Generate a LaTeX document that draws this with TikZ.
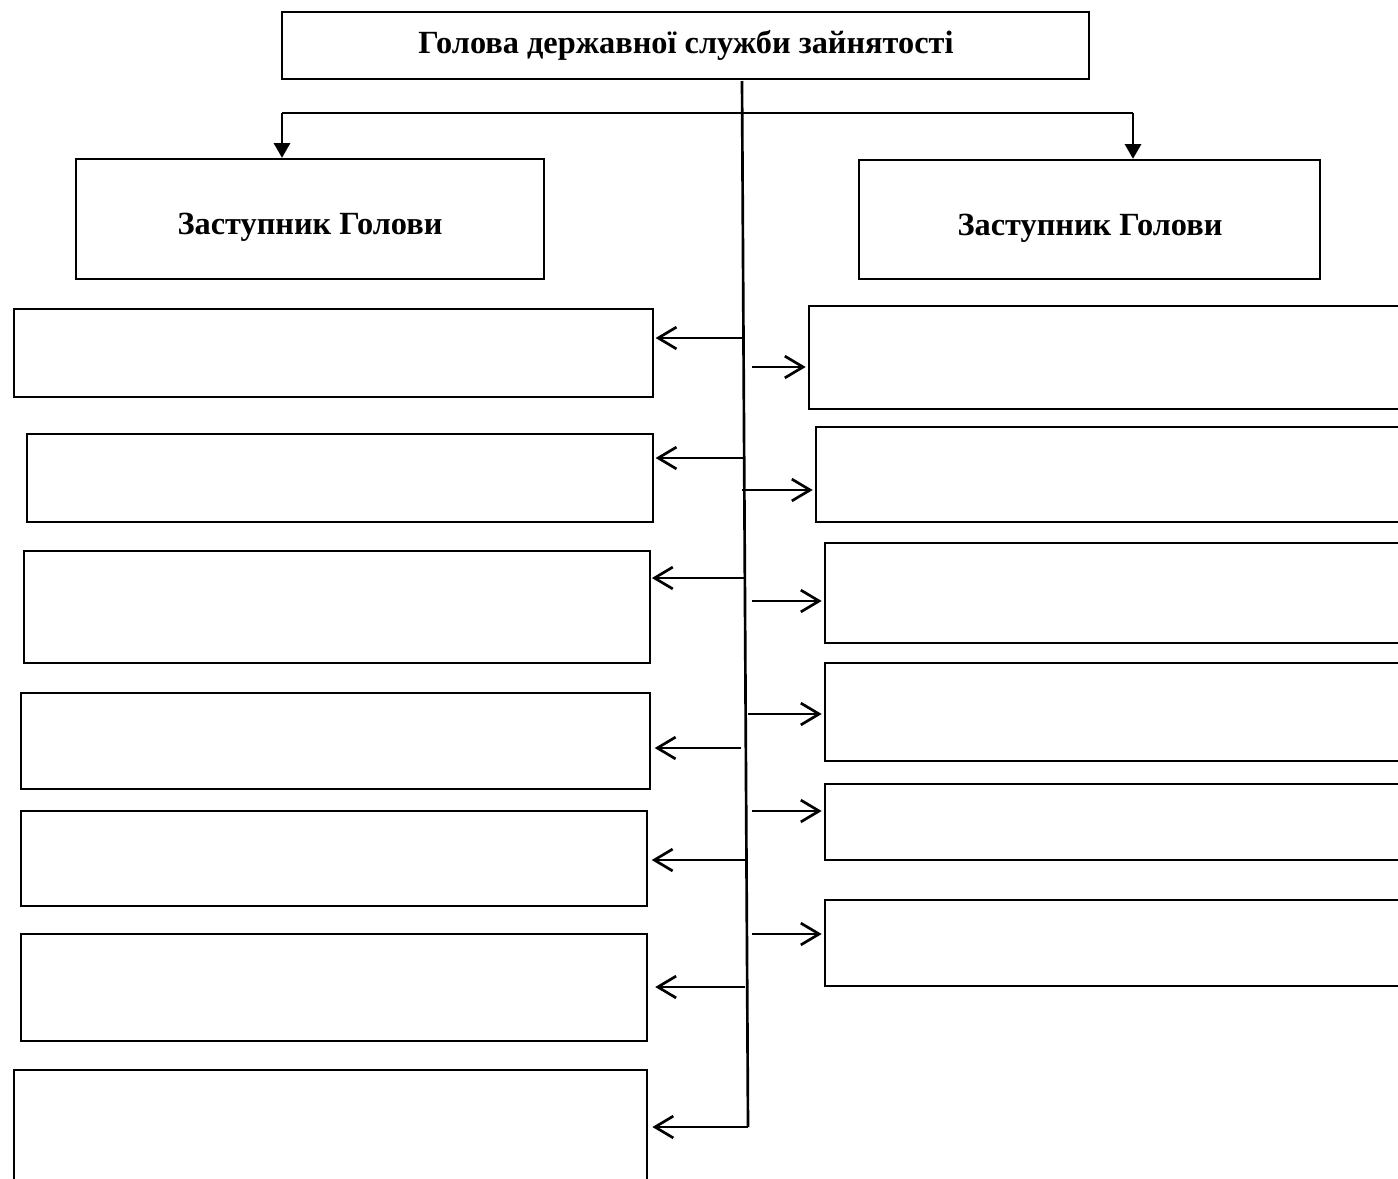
\documentclass[tikz,border=0pt]{standalone}
\usepackage{fontspec}
\setmainfont{Liberation Serif}
\usetikzlibrary{arrows.meta,fit}
\begin{document}
\begin{tikzpicture}[x=0.05cm,y=-0.05cm,
  box/.style={draw, line width=3.4pt, inner sep=0pt},
  txt/.style={inner sep=0pt, font=\fontsize{46}{54}\selectfont\bfseries},
  conn/.style={line width=3.8pt},
  barb/.style={conn, -{Straight Barb[length=26pt,width=31pt,line width=3.8pt]}},
  down/.style={conn, -{Triangle[length=21pt,width=23pt]}}]
\useasboundingbox (0,0) rectangle (1398,1178);
\clip (0,0) rectangle (1398,1178);
% top
\node[box, fit={(282,12) (1089,79)}] (head) {};
\node[txt] (headt) at (686,45) {Голова державної служби зайнятості};
\node[box, fit={(76,159) (544,279)}] (dl) {};
\node[txt] (dlt) at (310,227) {Заступник Голови};
\node[box, fit={(859,160) (1320,279)}] (dr) {};
\node[txt] (drt) at (1090,228) {Заступник Голови};
% left column
\node[box, fit={(14,309) (653,397)}] (l1) {};
\node[box, fit={(27,434) (653,522)}] (l2) {};
\node[box, fit={(24,551) (650,663)}] (l3) {};
\node[box, fit={(21,693) (650,789)}] (l4) {};
\node[box, fit={(21,811) (647,906)}] (l5) {};
\node[box, fit={(21,934) (647,1041)}] (l6) {};
\node[box, fit={(14,1070) (647,1200)}] (l7) {};
% right column
\node[box, fit={(809,306) (1410,409)}] (r1) {};
\node[box, fit={(816,427) (1410,522)}] (r2) {};
\node[box, fit={(825,543) (1410,643)}] (r3) {};
\node[box, fit={(825,663) (1410,761)}] (r4) {};
\node[box, fit={(825,784) (1410,860)}] (r5) {};
\node[box, fit={(825,900) (1410,986)}] (r6) {};
% spine
\coordinate (st) at (742,81);
\coordinate (sb) at (748,1127);
\draw[conn] (st) -- (sb);
% top bar
\coordinate (bl) at (282,113);
\coordinate (br) at (1133,113);
\draw[conn] (bl) -- (br);
\draw[down] (bl) -- (bl |- dl.north);
\draw[down] (br) -- (br |- dr.north);
% left arrows
\coordinate (a1) at (745,338);
\coordinate (a2) at (745,458);
\coordinate (a3) at (746,578);
\coordinate (a4) at (741,748);
\coordinate (a5) at (746,860);
\coordinate (a6) at (745,987);
\draw[barb] (a1) -- ([xshift=2pt]a1 -| l1.east);
\draw[barb] (a2) -- ([xshift=2pt]a2 -| l2.east);
\draw[barb] (a3) -- ([xshift=1pt]a3 -| l3.east);
\draw[barb] (a4) -- ([xshift=5pt]a4 -| l4.east);
\draw[barb] (a5) -- ([xshift=5pt]a5 -| l5.east);
\draw[barb] (a6) -- ([xshift=10pt]a6 -| l6.east);
\draw[barb] (sb) -- ([xshift=6pt]sb -| l7.east);
% right arrows
\coordinate (b1) at (752,367);
\coordinate (b2) at (742,490);
\coordinate (b3) at (752,601);
\coordinate (b4) at (748,714);
\coordinate (b5) at (752,811);
\coordinate (b6) at (752,934);
\draw[barb] (b1) -- ([xshift=-3pt]b1 -| r1.west);
\draw[barb] (b2) -- ([xshift=-3pt]b2 -| r2.west);
\draw[barb] (b3) -- ([xshift=-3pt]b3 -| r3.west);
\draw[barb] (b4) -- ([xshift=-3pt]b4 -| r4.west);
\draw[barb] (b5) -- ([xshift=-3pt]b5 -| r5.west);
\draw[barb] (b6) -- ([xshift=-3pt]b6 -| r6.west);
\end{tikzpicture}
\end{document}
